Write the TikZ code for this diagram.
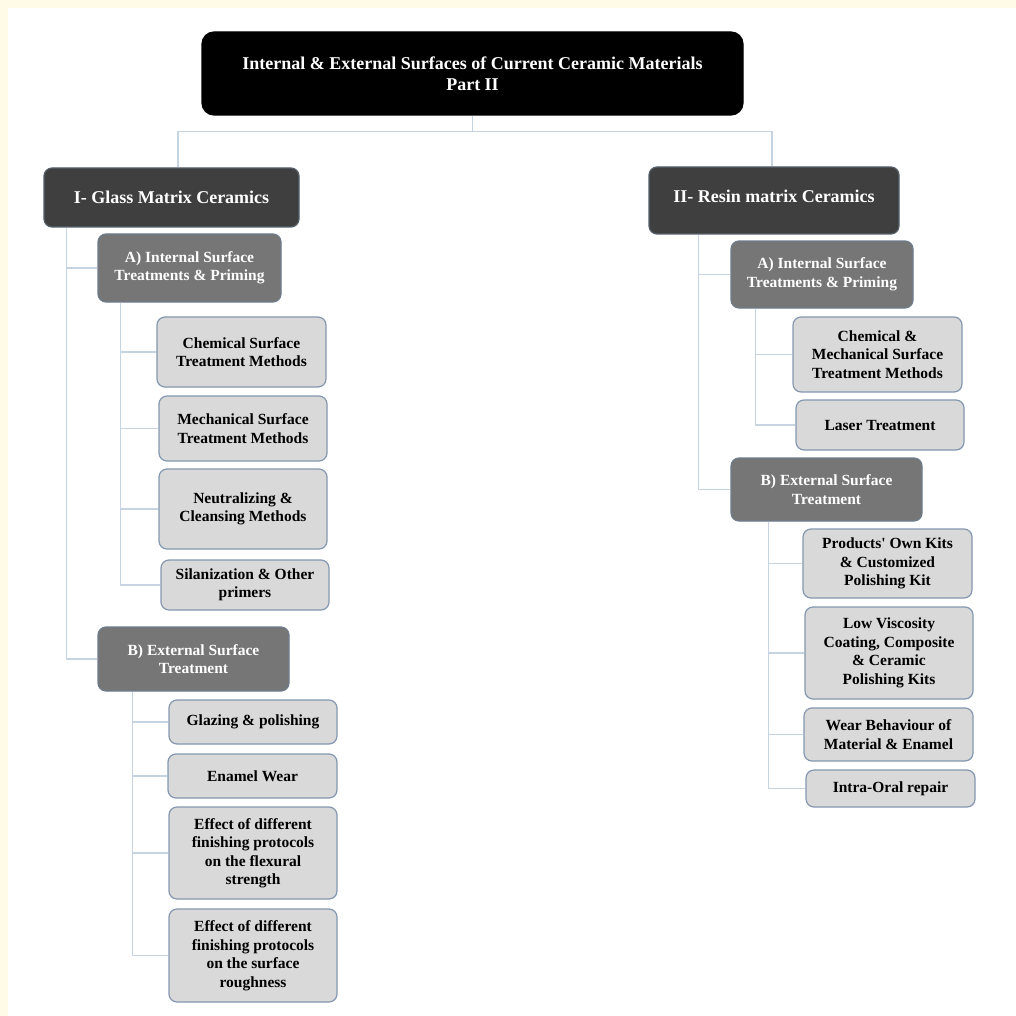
\documentclass[tikz,border=0pt]{standalone}
\usepackage{fontspec}
\setmainfont{Liberation Serif}[Ligatures=TeXOff]
\definecolor{cream}{HTML}{FFFBE6}
\definecolor{lightfill}{HTML}{D9D9D9}
\definecolor{lightedge}{HTML}{8497B0}
\definecolor{midfill}{HTML}{767676}
\definecolor{midedge}{HTML}{6E7C8C}
\definecolor{darkfill}{HTML}{3F3F3F}
\definecolor{darkedge}{HTML}{56606B}
\definecolor{connc}{HTML}{C5D4E0}
\begin{document}
\begin{tikzpicture}[x=1pt,y=-1pt,
  box/.style={rounded corners=8pt, inner sep=0pt, align=center, line width=1.2pt,
    font=\fontsize{15.5}{18.5}\selectfont\bfseries},
  light/.style={box, fill=lightfill, draw=lightedge, text=black},
  mid/.style={box, fill=midfill, draw=midedge, text=white},
  sect/.style={box, fill=darkfill, draw=darkedge, text=white,
    font=\fontsize{18}{21.5}\selectfont\bfseries},
  topbox/.style={box, rounded corners=12pt, fill=black, draw=black, text=white,
    font=\fontsize{18}{21}\selectfont\bfseries},
  conn/.style={draw=connc, line width=1.3pt}]
% background
\fill[cream] (0,0) rectangle (1016,1016);
\fill[white] (8,8) rectangle (1016,1016);
% title
\node[topbox, minimum width=541pt, minimum height=83pt] (title) at (472.5,73.5)
  {Internal \& External Surfaces of Current Ceramic Materials\\Part II};
% sections
\node[sect, minimum width=255pt, minimum height=59pt] (secI) at (171.5,197.5) {I- Glass Matrix Ceramics};
\node[sect, minimum width=250pt, minimum height=67pt, text depth=8pt] (secII) at (774,200.5) {II- Resin matrix Ceramics};
% left branch
\node[mid, minimum width=183pt, minimum height=68pt] (A1) at (189.5,268) {A) Internal Surface\\Treatments \& Priming};
\node[light, minimum width=169pt, minimum height=70pt] (c1) at (241.5,352) {Chemical Surface\\Treatment Methods};
\node[light, minimum width=168pt, minimum height=65pt] (c2) at (243,428.5) {Mechanical Surface\\Treatment Methods};
\node[light, minimum width=168pt, minimum height=80pt] (c3) at (243,509) {Neutralizing \&\\Cleansing Methods};
\node[light, minimum width=168pt, minimum height=50pt] (c4) at (245,585) {Silanization \& Other\\primers};
\node[mid, minimum width=191pt, minimum height=64pt] (B1) at (193.5,659) {B) External Surface\\Treatment};
\node[light, minimum width=168pt, minimum height=44pt] (d1) at (253,722) {Glazing \& polishing};
\node[light, minimum width=169pt, minimum height=44pt] (d2) at (252.5,776) {Enamel Wear};
\node[light, minimum width=168pt, minimum height=92pt] (d3) at (253,853) {Effect of different\\finishing protocols\\on the flexural\\strength};
\node[light, minimum width=168pt, minimum height=93pt] (d4) at (253,955.5) {Effect of different\\finishing protocols\\on the surface\\roughness};
% right branch
\node[mid, minimum width=182pt, minimum height=67pt] (A2) at (822,274.5) {A) Internal Surface\\Treatments \& Priming};
\node[light, minimum width=169pt, minimum height=75pt] (e1) at (877.5,354.5) {Chemical \&\\Mechanical Surface\\Treatment Methods};
\node[light, minimum width=168pt, minimum height=50pt] (e2) at (880,425) {Laser Treatment};
\node[mid, minimum width=191pt, minimum height=63pt] (B2) at (826.5,489.5) {B) External Surface\\Treatment};
\node[light, minimum width=169pt, minimum height=69pt] (f1) at (887.5,563.5) {Products' Own Kits\\\& Customized\\Polishing Kit};
\node[light, minimum width=168pt, minimum height=92pt] (f2) at (889,653) {Low Viscosity\\Coating, Composite\\\& Ceramic\\Polishing Kits};
\node[light, minimum width=169pt, minimum height=53pt] (f3) at (888.5,734.5) {Wear Behaviour of\\Material \& Enamel};
\node[light, minimum width=169pt, minimum height=37pt] (f4) at (890.5,788.5) {Intra-Oral repair};
% connectors
\draw[conn] (title.south) -- ++(0,16) -| ([xshift=6.5pt]secI.north);
\draw[conn] (title.south) -- ++(0,16) -| ([xshift=-2pt]secII.north);
\draw[conn] ([xshift=23pt]secI.south west) |- (A1.west);
\draw[conn] ([xshift=23pt]secI.south west) |- (B1.west);
\foreach \n in {c1,c2,c3,c4} \draw[conn] ([xshift=23pt]A1.south west) |- (\n.west);
\foreach \n in {d1,d2,d3,d4} \draw[conn] ([xshift=35pt]B1.south west) |- (\n.west);
\draw[conn] ([xshift=50pt]secII.south west) |- (A2.west);
\draw[conn] ([xshift=50pt]secII.south west) |- (B2.west);
\foreach \n in {e1,e2} \draw[conn] ([xshift=25pt]A2.south west) |- (\n.west);
\foreach \n in {f1,f2,f3,f4} \draw[conn] ([xshift=38pt]B2.south west) |- (\n.west);
\end{tikzpicture}
\end{document}
